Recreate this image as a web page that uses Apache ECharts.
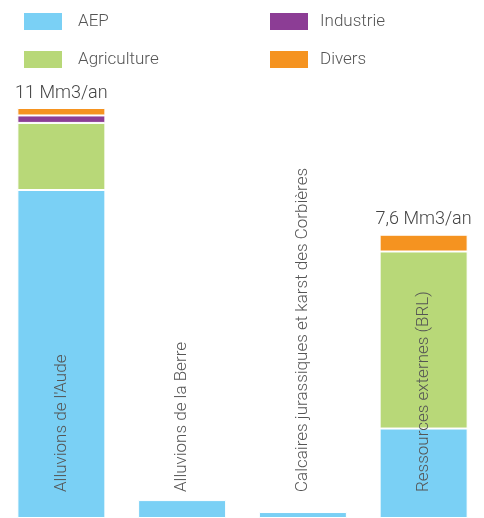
<!DOCTYPE html>
<html>
<head>
<meta charset="utf-8">
<script src="https://cdn.jsdelivr.net/npm/echarts@6/dist/echarts.min.js"></script>
<style>
  html, body { margin: 0; padding: 0; background: #fff; }
  #chart { width: 484px; height: 518px; }
</style>
</head>
<body>
<div id="chart"></div>
<script>
// Ressources en eau prélevées par origine (Mm3/an)
const categories = [
  "Alluvions de l'Aude",
  "Alluvions de la Berre",
  "Calcaires jurassiques et karst des Corbières",
  "Ressources externes (BRL)"
];
const aep         = [8.8, 0.48, 0.16, 2.4];
const agriculture = [1.8, 0, 0, 4.75];
const industrie   = [0.2, 0, 0, 0];
const divers      = [0.2, 0, 0, 0.45];
const totals      = [11, null, null, 7.6];

const colors = {
  AEP: '#7ad0f5',
  Agriculture: '#b8d878',
  Industrie: '#8c3d95',
  Divers: '#f59320'
};

const fontFamily = 'Roboto, "Liberation Sans", sans-serif';
const textColor = '#555';

function fmtTotal(v) {
  return String(v).replace('.', ',') + ' Mm3/an';
}

function toData(arr, withTotal) {
  return arr.map((v, i) => {
    const item = { value: v === 0 ? '-' : v };
    if (withTotal && totals[i] != null) {
      item.label = {
        show: true,
        position: 'top',
        distance: 6,
        formatter: fmtTotal(totals[i]),
        fontSize: 18,
        color: '#444',
        fontFamily: fontFamily,
        fontWeight: 300
      };
    }
    return item;
  });
}

const itemStyle = (c) => ({ color: c, borderColor: '#fff', borderWidth: 1 });

const legendText = { fontSize: 17, color: textColor, fontFamily: fontFamily, fontWeight: 300 };

const chart = echarts.init(document.getElementById('chart'), null, { renderer: 'canvas' });
chart.setOption({
  animation: false,
  backgroundColor: '#fff',
  legend: [
    {
      data: ['AEP', 'Agriculture'],
      orient: 'vertical',
      left: 22, top: 11, padding: 0,
      itemWidth: 40, itemHeight: 19, itemGap: 17,
      icon: 'rect',
      textStyle: Object.assign({ padding: [0, 0, 0, 10] }, legendText)
    },
    {
      data: ['Industrie', 'Divers'],
      orient: 'vertical',
      left: 268, top: 11, padding: 0,
      itemWidth: 40, itemHeight: 19, itemGap: 17,
      icon: 'rect',
      textStyle: Object.assign({ padding: [0, 0, 0, 6] }, legendText)
    }
  ],
  grid: { left: 1, width: 489, top: 108, bottom: 0, containLabel: false },
  xAxis: {
    type: 'category',
    data: categories,
    axisLine: { show: false },
    axisTick: { show: false },
    axisLabel: {
      inside: true,
      rotate: 90,
      margin: 26,
      interval: 0,
      fontSize: 17,
      color: textColor,
      fontFamily: fontFamily,
      fontWeight: 300
    },
    z: 10
  },
  yAxis: {
    type: 'value',
    min: 0, max: 11,
    show: false,
    splitLine: { show: false }
  },
  series: [
    { name: 'AEP', type: 'bar', stack: 'total', barWidth: 88, data: toData(aep), itemStyle: itemStyle(colors.AEP) },
    { name: 'Agriculture', type: 'bar', stack: 'total', data: toData(agriculture), itemStyle: itemStyle(colors.Agriculture) },
    { name: 'Industrie', type: 'bar', stack: 'total', data: toData(industrie), itemStyle: itemStyle(colors.Industrie) },
    { name: 'Divers', type: 'bar', stack: 'total', data: toData(divers, true), itemStyle: itemStyle(colors.Divers) }
  ]
});
</script>
</body>
</html>
